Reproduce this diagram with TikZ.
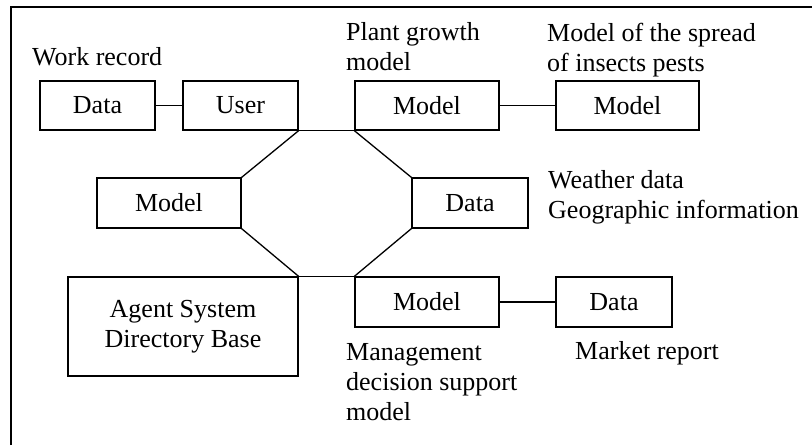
\documentclass[tikz,border=0pt]{standalone}
\usepackage{fontspec}
\setmainfont{Liberation Serif}
\begin{document}
\begin{tikzpicture}[x=1pt,y=-1pt,
  every node/.style={font=\fontsize{26}{30}\selectfont},
  box/.style={draw,line width=1.3pt,inner sep=0pt,align=center},
  lbl/.style={inner sep=0pt,align=left,anchor=base west},
  conn/.style={line width=1.3pt}]
\useasboundingbox (0,0) rectangle (812,445);
\draw[line width=2pt] (11,445) -- (11,7) -- (812,7);
% boxes
\node[box,minimum width=115pt,minimum height=49pt] (d1) at (97.5,105.5) {Data};
\node[box,minimum width=115pt,minimum height=49pt] (user) at (240.5,105.5) {User};
\node[box,minimum width=144pt,minimum height=49pt] (pm) at (427,105.5) {Model};
\node[box,minimum width=143pt,minimum height=49pt] (pest) at (627.5,105.5) {Model};
\node[box,minimum width=144pt,minimum height=50pt] (lm) at (169,203) {Model};
\node[box,minimum width=116pt,minimum height=50pt] (rd) at (470,203) {Data};
\node[box,minimum width=230pt,minimum height=99pt] (agent) at (183,326.5) {Agent System\\Directory Base};
\node[box,minimum width=144pt,minimum height=50pt] (mm) at (427,302) {Model};
\node[box,minimum width=116pt,minimum height=50pt] (md) at (614,302) {Data};
% connectors
\draw[conn] (d1) -- (user);
\draw[conn] (pm) -- (pest);
\draw[conn] (mm) -- (md);
\draw[conn] (user.south east) -- (pm.south west);
\draw[conn] (user.south east) -- (lm.north east);
\draw[conn] (pm.south west) -- (rd.north west);
\draw[conn] (lm.south east) -- (agent.north east);
\draw[conn] (agent.north east) -- (mm.north west);
\draw[conn] (mm.north west) -- (rd.south west);
% labels (base = baseline of last line)
\node[lbl] (l1) at (32,65) {Work record};
\node[lbl] (l2) at (346,70) {Plant growth\\model};
\node[lbl] (l3) at (547,71) {Model of the spread\\of insects pests};
\node[lbl] (l4) at (548,218) {Weather data\\Geographic information};
\node[lbl] (l5) at (346,420) {Management\\decision support\\model};
\node[lbl] (l6) at (575,359) {Market report};
\end{tikzpicture}
\end{document}
